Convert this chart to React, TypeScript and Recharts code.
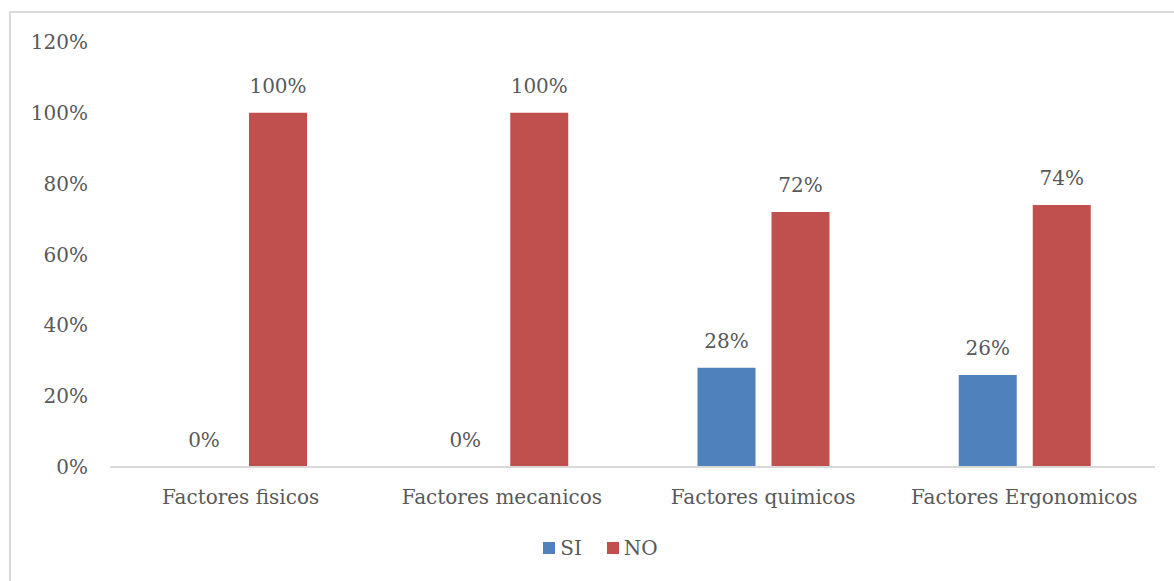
import React from 'react';
import { BarChart, Bar, XAxis, YAxis, Legend, LabelList } from 'recharts';

const categories = ['Factores fisicos', 'Factores mecanicos', 'Factores quimicos', 'Factores Ergonomicos'];
const siValues = [0, 0, 0.28, 0.26];
const noValues = [1.0, 1.0, 0.72, 0.74];
const yTicks = [0, 0.2, 0.4, 0.6, 0.8, 1.0, 1.2];
const seriesOrder = ['SI', 'NO'];

const data = categories.map((c, i) => ({ name: c, SI: siValues[i], NO: noValues[i] }));

const FONT = '"DejaVu Serif", serif';
const TEXT = '#595959';
const BAR_GAP = 16;
const pct = (v: number) => `${Math.round(v * 100)}%`;

const renderLegend = (props: any) => {
  const payload = [...(props.payload || [])].sort(
    (a: any, b: any) => seriesOrder.indexOf(a.value) - seriesOrder.indexOf(b.value)
  );
  return (
    <div style={{ display: 'flex', justifyContent: 'center', fontFamily: FONT, fontSize: 20, color: TEXT, paddingLeft: 46 }}>
      {payload.map((p: any, i: number) => (
        <div key={i} style={{ display: 'flex', alignItems: 'center', marginRight: i === 0 ? 25 : 0 }}>
          <span style={{ display: 'inline-block', width: 12, height: 12, background: p.color, marginRight: 5 }} />
          <span>{p.value}</span>
        </div>
      ))}
    </div>
  );
};

const labelText = (x: number, y: number, value: number, key?: string) => (
  <text key={key} x={x} y={y} textAnchor="middle" fill={TEXT} fontSize={20} fontFamily={FONT}>
    {pct(value)}
  </text>
);

const renderTopLabel = (props: any) => {
  const { x, y, width, value } = props;
  if (value == null) return null;
  return labelText(Number(x) + Number(width) / 2, Number(y) - 20, Number(value));
};

// Zero-valued SI bars have no rectangle, so their labels are placed from the
// neighbouring NO bar's geometry (same baseline, one bar + gap to the left).
const renderZeroSiLabel = (props: any) => {
  const { x, y, width, height, value } = props;
  if (value !== 0) return null;
  const w = Number(width);
  const baseY = Number(y) + Number(height);
  return labelText(Number(x) - BAR_GAP - w / 2, baseY - 20, 0);
};

export default function App() {
  return (
    <div style={{ position: 'absolute', left: 0, top: 0, width: 1174, height: 581, overflow: 'hidden', background: '#fff' }}>
      <div style={{ position: 'absolute', left: 9, top: 11, width: 1200, height: 600, border: '2px solid #d9d9d9' }} />
      <div style={{ position: 'absolute', left: 0, top: 0 }}>
        <BarChart
          width={1174}
          height={581}
          data={data}
          margin={{ top: 42, right: 19, left: 0, bottom: 21 }}
          barSize={58}
          barGap={BAR_GAP}
        >
          <XAxis
            dataKey="name"
            axisLine={{ stroke: '#d9d9d9', strokeWidth: 2 }}
            tickLine={false}
            tickSize={0}
            tickMargin={23}
            height={69}
            tick={{ fill: TEXT, fontSize: 20, fontFamily: FONT }}
          />
          <YAxis
            domain={[0, 1.2]}
            ticks={yTicks}
            tickFormatter={pct}
            axisLine={false}
            tickLine={false}
            tickSize={0}
            tickMargin={22}
            width={110}
            tick={{ fill: TEXT, fontSize: 20, fontFamily: FONT }}
          />
          <Legend verticalAlign="bottom" content={renderLegend} />
          <Bar dataKey="SI" name="SI" fill="#4F81BD" isAnimationActive={false}>
            <LabelList dataKey="SI" content={renderTopLabel} />
          </Bar>
          <Bar dataKey="NO" name="NO" fill="#C0504D" isAnimationActive={false}>
            <LabelList dataKey="NO" content={renderTopLabel} />
            <LabelList dataKey="SI" content={renderZeroSiLabel} />
          </Bar>
        </BarChart>
      </div>
    </div>
  );
}
